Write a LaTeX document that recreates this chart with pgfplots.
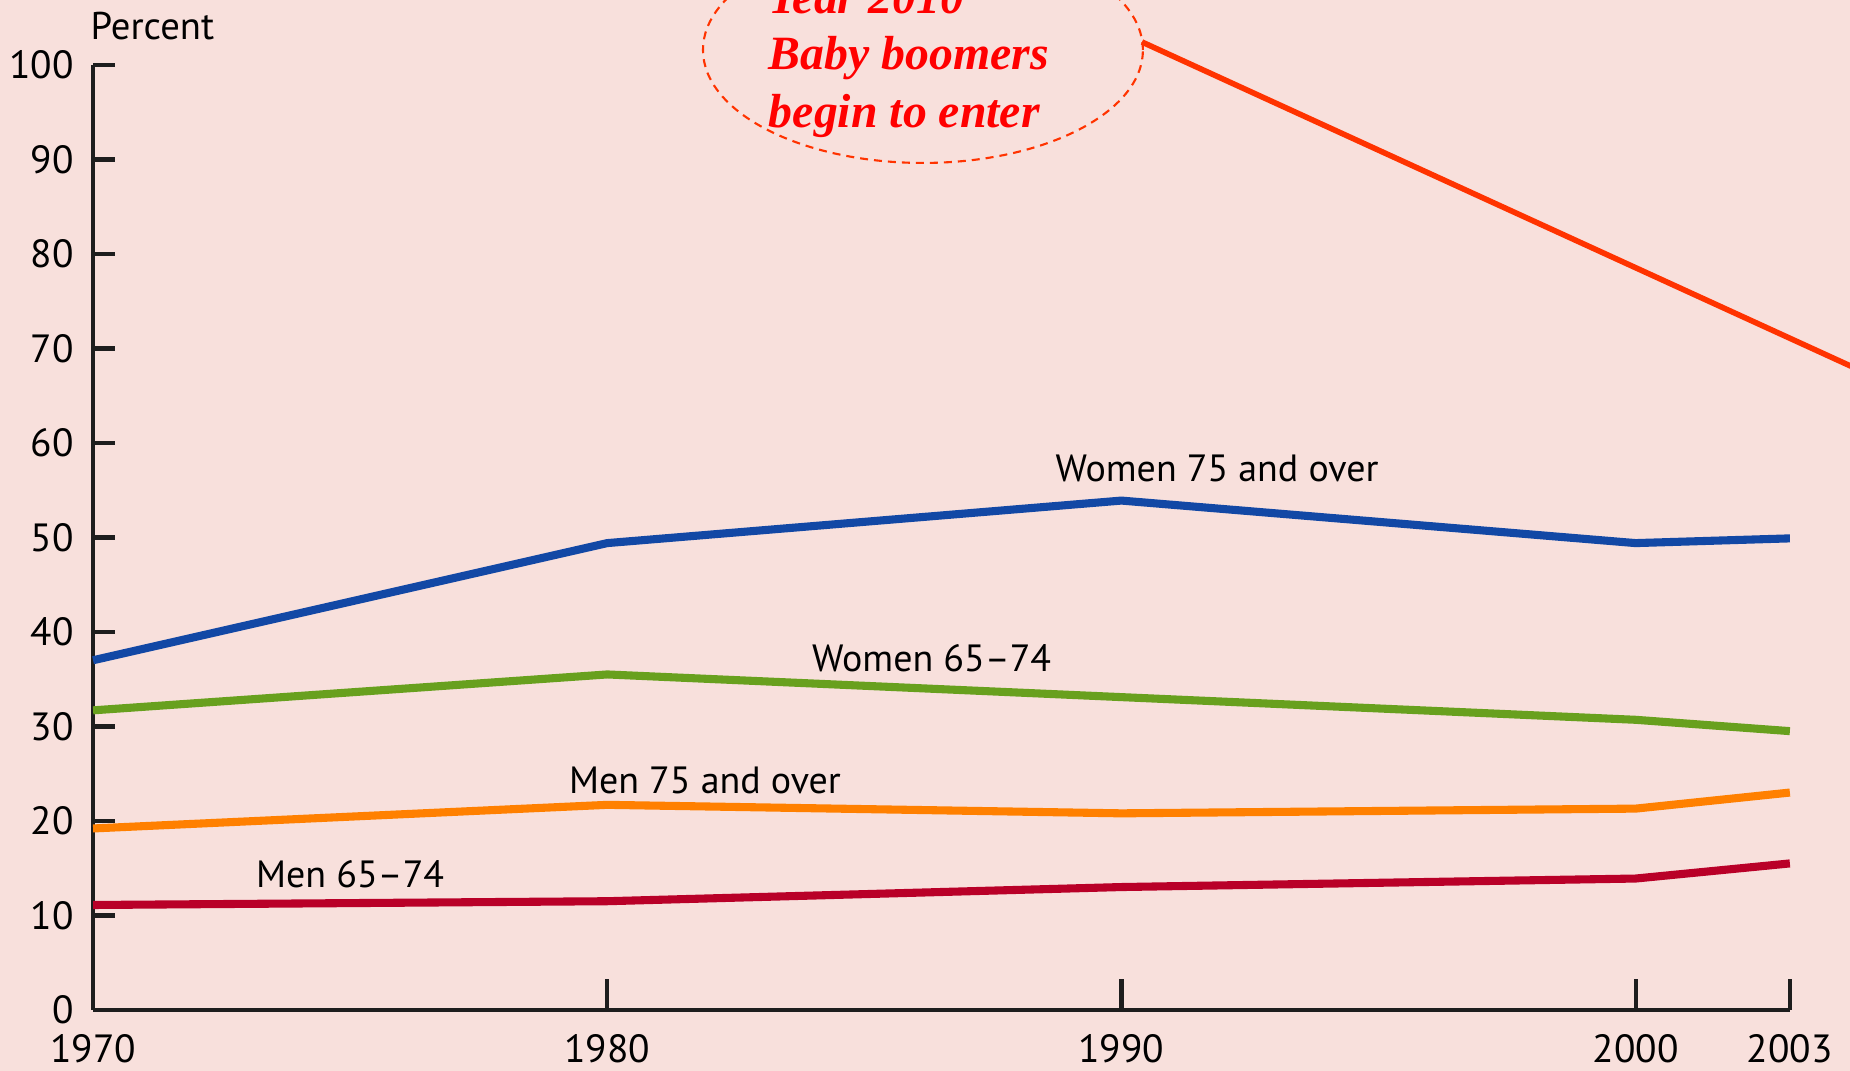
\documentclass[border=0pt]{standalone}
\usepackage{pgfplots}
\pgfplotsset{compat=1.18}
\usepackage{fontspec}
\setmainfont{PT Sans}
\newfontfamily\annotfont{Liberation Serif}
\usetikzlibrary{backgrounds}
\definecolor{bg}{RGB}{248,224,220}
\definecolor{cblue}{RGB}{18,72,165}
\definecolor{cgreen}{RGB}{104,160,30}
\definecolor{corange}{RGB}{255,128,0}
\definecolor{ccrimson}{RGB}{185,0,40}
\definecolor{credline}{RGB}{255,51,0}
\definecolor{ctext}{RGB}{255,0,0}
\definecolor{axcol}{RGB}{30,30,30}
\begin{document}
\begin{tikzpicture}
\begin{axis}[
  scale only axis, width=169.7mm, height=94.5mm,
  xmin=1970, xmax=2003, ymin=0, ymax=100,
  axis lines=left,
  axis line style={-, line width=1.2pt, color=axcol},
  xtick={1970,1980,1990,2000,2003},
  ytick={0,10,...,100},
  tick align=inside,
  major tick length=2.2mm,
  tick style={line width=1.2pt, color=axcol},
  x tick style={/pgfplots/major tick length=3.1mm},
  clip=false,
  /pgf/number format/assume math mode=true,
  xticklabel style={/pgf/number format/1000 sep={}, font=\fontsize{11.2}{13}\selectfont, yshift=-1.2mm},
  yticklabel style={font=\fontsize{11.2}{13}\selectfont, xshift=-0.7mm},
  line join=round,
]
\addplot[cblue, line width=2.3pt] coordinates {(1970,37.0) (1980,49.4) (1990,53.9) (2000,49.4) (2003,49.9)};
\addplot[cgreen, line width=2.3pt] coordinates {(1970,31.7) (1980,35.5) (1990,33.1) (2000,30.7) (2003,29.5)};
\addplot[corange, line width=2.3pt] coordinates {(1970,19.2) (1980,21.7) (1990,20.8) (2000,21.3) (2003,23.0)};
\addplot[ccrimson, line width=2.3pt] coordinates {(1970,11.1) (1980,11.5) (1990,13.0) (2000,13.9) (2003,15.5)};
\node[font=\fontsize{10.8}{13}\selectfont] at (axis cs:1991.86,57.3) {Women 75 and over};
\node[font=\fontsize{10.8}{13}\selectfont] at (axis cs:1986.31,37.2) {Women 65–74};
\node[font=\fontsize{10.8}{13}\selectfont] at (axis cs:1981.90,24.3) {Men 75 and over};
\node[font=\fontsize{10.8}{13}\selectfont] at (axis cs:1975.0,14.4) {Men 65–74};
\node[font=\fontsize{11}{13}\selectfont, anchor=base west, inner sep=0pt] at (axis cs:1969.94,102.65) {Percent};
\draw[credline, line width=0.6pt, dash pattern=on 0.8mm off 0.6mm] (axis cs:1986.14,101.59) ellipse [x radius=22mm, y radius=11.3mm];
\draw[credline, line width=1.6pt] (axis cs:1990.40,102.43) -- (axis cs:2004.8,66.6);
\node[font=\annotfont\bfseries\itshape\fontsize{13.6}{16}\selectfont, text=ctext, anchor=base west, inner sep=0pt] at (axis cs:1983.13,105.5) {Year 2010};
\node[font=\annotfont\bfseries\itshape\fontsize{13.6}{16}\selectfont, text=ctext, anchor=base west, inner sep=0pt] at (axis cs:1983.13,99.47) {Baby boomers};
\node[font=\annotfont\bfseries\itshape\fontsize{13.6}{16}\selectfont, text=ctext, anchor=base west, inner sep=0pt] at (axis cs:1983.13,93.4) {begin to enter};
\coordinate (BL) at (axis cs:1968.19,-6.455);
\coordinate (TR) at (axis cs:2004.17,106.88);
\end{axis}
\begin{scope}[on background layer]
\fill[bg] (BL) rectangle (TR);
\end{scope}
\pgfresetboundingbox
\path[use as bounding box] (BL) rectangle (TR);
\end{tikzpicture}
\end{document}
